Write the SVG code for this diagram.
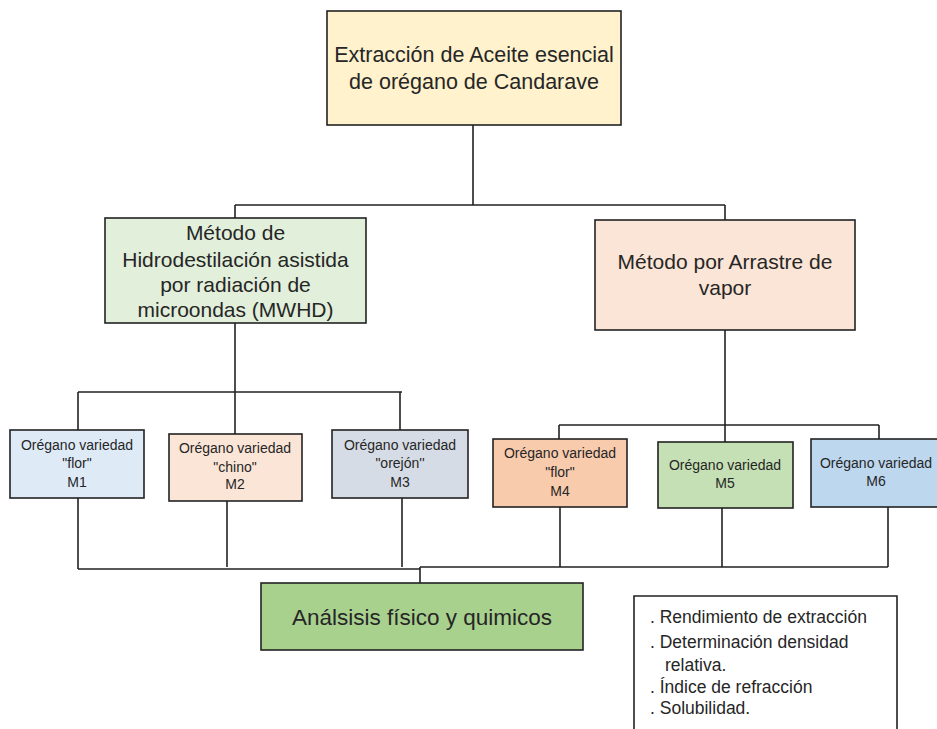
<svg xmlns="http://www.w3.org/2000/svg" width="937" height="729" viewBox="0 0 937 729">
<style>
.box{stroke:#222;stroke-width:1.6}
.ln{stroke:#222;stroke-width:1.6;fill:none}
text{font-family:"Liberation Sans",Arial,sans-serif;fill:#262626;text-anchor:middle}
.big{font-size:21px}
.sm{font-size:14px}
.lst{font-size:17.5px;text-anchor:start}
</style>
<rect width="937" height="729" fill="#fff"/>
<g id="connectors">
<path class="ln" d="M473 125V205M235 205H725M235 205V218M725 205V220"/>
<path class="ln" d="M235 323V392M78 392H402M78 392V430M235 392V434M400 392V430"/>
<path class="ln" d="M725 330V442M559 425H879M559 425V439M879 425V439"/>
<path class="ln" d="M78 498V569M227 501V567M402 498V567M560 507V567M722 508V567M888 507V567M78 569H420M420 567H888M420 567V583"/>
</g>
<g id="n-root">
<rect class="box" x="327" y="11" width="294" height="114" fill="#FFF2CC"/>
<text class="big" x="474" y="61.5" style="font-size:21.5px">Extracción de Aceite esencial</text>
<text class="big" x="474" y="88.5" style="font-size:21.5px">de orégano de Candarave</text>
</g>
<g id="n-mwhd">
<rect class="box" x="105" y="218" width="261" height="105" fill="#E2EFDA"/>
<text class="big" x="235.5" y="240">Método de</text>
<text class="big" x="235.5" y="267">Hidrodestilación asistida</text>
<text class="big" x="235.5" y="292">por radiación de</text>
<text class="big" x="235.5" y="317">microondas (MWHD)</text>
</g>
<g id="n-arrastre">
<rect class="box" x="595" y="220" width="260" height="110" fill="#FBE5D6"/>
<text class="big" x="725" y="269">Método por Arrastre de</text>
<text class="big" x="725" y="295">vapor</text>
</g>
<g id="n-m1">
<rect class="box" x="10" y="430" width="134" height="68" fill="#DEEBF7"/>
<text class="sm" x="77" y="450">Orégano variedad</text>
<text class="sm" x="77" y="468">"flor"</text>
<text class="sm" x="77" y="487">M1</text>
</g>
<g id="n-m2">
<rect class="box" x="169" y="434" width="133" height="67" fill="#FBE5D6"/>
<text class="sm" x="235" y="453">Orégano variedad</text>
<text class="sm" x="235" y="472">"chino"</text>
<text class="sm" x="235" y="489">M2</text>
</g>
<g id="n-m3">
<rect class="box" x="332" y="430" width="136" height="68" fill="#D6DCE5"/>
<text class="sm" x="400" y="450">Orégano variedad</text>
<text class="sm" x="400" y="468">"orejón''</text>
<text class="sm" x="400" y="487">M3</text>
</g>
<g id="n-m4">
<rect class="box" x="493" y="439" width="134" height="68" fill="#F8CBAD"/>
<text class="sm" x="560" y="458">Orégano variedad</text>
<text class="sm" x="560" y="477">"flor"</text>
<text class="sm" x="560" y="496">M4</text>
</g>
<g id="n-m5">
<rect class="box" x="658" y="442" width="135" height="66" fill="#C5E0B4"/>
<text class="sm" x="725" y="470">Orégano variedad</text>
<text class="sm" x="725" y="488">M5</text>
</g>
<g id="n-m6">
<rect class="box" x="811" y="439" width="135" height="68" fill="#BDD7EE"/>
<text class="sm" x="876" y="468">Orégano variedad</text>
<text class="sm" x="876" y="486">M6</text>
</g>
<g id="n-analisis">
<rect class="box" x="261" y="583" width="322" height="67" fill="#A9D18E"/>
<text x="422" y="625" style="font-size:22.5px">Análsisis físico y quimicos</text>
</g>
<g id="n-lista">
<path class="ln" d="M634 740V596H897V740"/>
<text class="lst" x="650" y="623">. Rendimiento de extracción</text>
<text class="lst" x="650" y="648">. Determinación densidad</text>
<text class="lst" x="665" y="671">relativa.</text>
<text class="lst" x="650" y="693">. Índice de refracción</text>
<text class="lst" x="650" y="714">. Solubilidad.</text>
</g>
</svg>
